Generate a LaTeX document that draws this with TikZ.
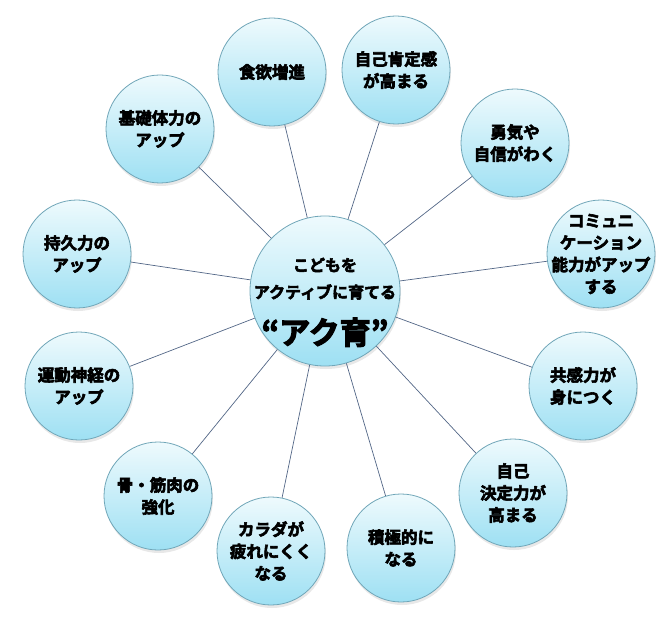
\documentclass[tikz,border=0pt]{standalone}
\usepackage{fontspec}
\newfontfamily\jpfont{Noto Sans CJK JP Bold}[FakeBold=3.5]
\definecolor{bubbletop}{RGB}{238, 250, 253}
\definecolor{bubblebot}{RGB}{158, 224, 243}
\definecolor{bubbleline}{RGB}{112, 166, 184}
\definecolor{spokeblue}{RGB}{82, 102, 134}
\usetikzlibrary{shadows}

\tikzset{
  bubble/.style={circle, draw=bubbleline, line width=0.8pt, top color=bubbletop, bottom color=bubblebot,
    minimum size=108pt, inner sep=-18pt, align=center,
    font=\jpfont\fontsize{16.5}{22}\selectfont,
    drop shadow={opacity=0.18, shadow xshift=1pt, shadow yshift=-3pt}},
  spoke/.style={draw=spokeblue, line width=0.7pt}
}

\begin{document}
\begin{tikzpicture}[x=1pt, y=-1pt]
  \useasboundingbox (0,0) rectangle (666,620);

  % hub
  \node[bubble, minimum size=150pt, inner sep=-40pt, font=\jpfont\fontsize{16}{27}\selectfont] (hub) at (325, 291) {
    \rule{0pt}{36pt}こどもを\\
    アクティブに育てる\\[17pt]
    {\fontsize{31}{32}\selectfont “アク育”}
  };

  % effects, clockwise from the top
  \node[bubble] (shoku)   at (272, 72)  {食欲増進};
  \node[bubble] (jiko)    at (396, 70)  {自己肯定感\\が高まる};
  \node[bubble] (yuki)    at (515, 143) {勇気や\\自信がわく};
  \node[bubble] (comm)    at (601, 254) {コミュニ\\ケーション\\能力がアップ\\する};
  \node[bubble] (kyokan)  at (583, 386) {共感力が\\身につく};
  \node[bubble] (kettei)  at (513, 493) {自己\\決定力が\\高まる};
  \node[bubble] (sekkyo)  at (401, 548) {積極的に\\なる};
  \node[bubble] (karada)  at (271, 551) {カラダが\\疲れにくく\\なる};
  \node[bubble] (hone)    at (158, 496) {骨・筋肉の\\強化};
  \node[bubble] (undo)    at (79, 386)  {運動神経の\\アップ};
  \node[bubble] (jikyu)   at (77, 254)  {持久力の\\アップ};
  \node[bubble] (kiso)    at (160, 129) {基礎体力の\\アップ};

  % spokes
  \foreach \n in {shoku, jiko, yuki, comm, kyokan, kettei, sekkyo, karada, hone, undo, jikyu, kiso}
    \draw[spoke] (hub) -- (\n);
\end{tikzpicture}
\end{document}
